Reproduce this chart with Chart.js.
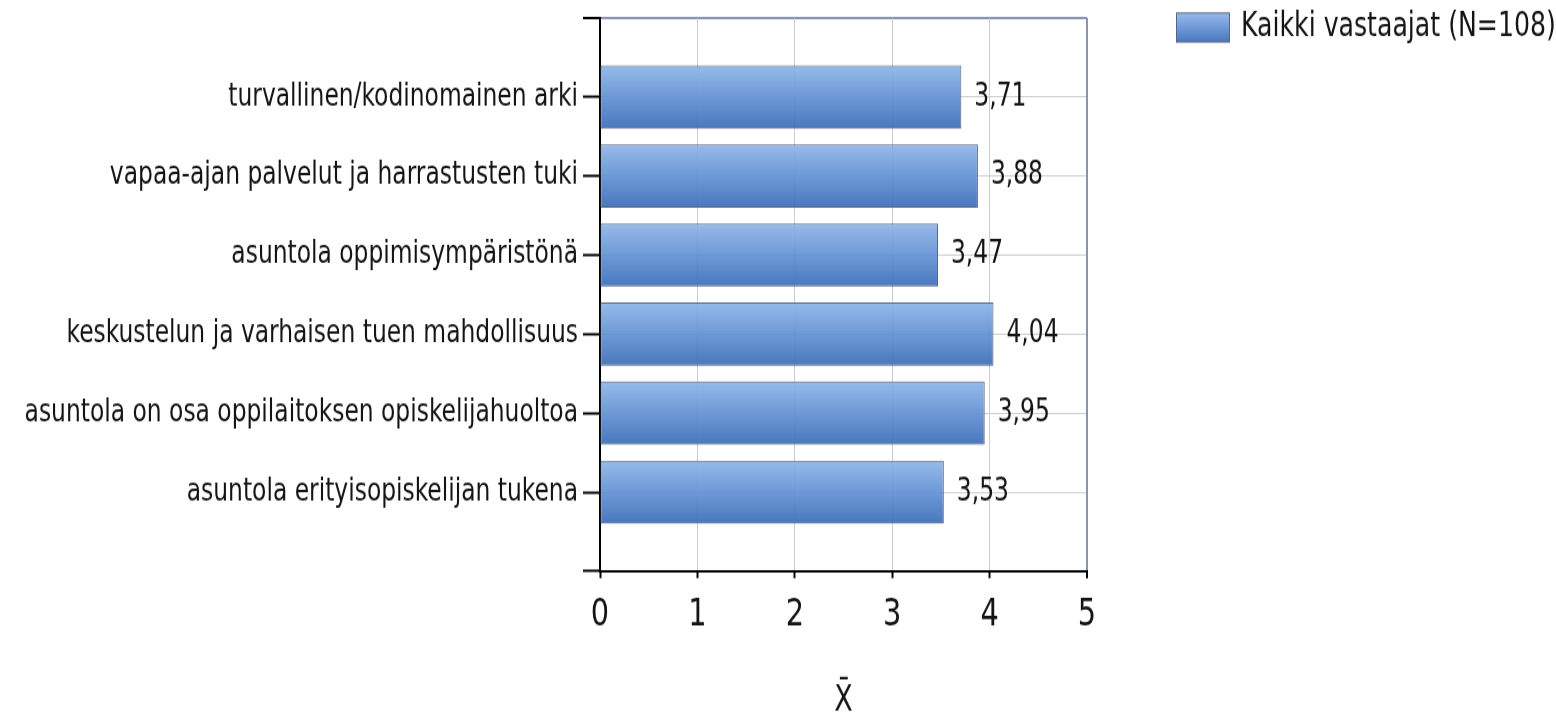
<!DOCTYPE html>
<html>
<head>
<meta charset="utf-8">
<script src="https://cdn.jsdelivr.net/npm/chart.js@4/dist/chart.umd.min.js"></script>
<style>
  html, body { margin: 0; padding: 0; background: #fff; overflow: hidden; }
  #chart { display: block; }
</style>
</head>
<body>
<!-- drawn at 1556x599 and stretched to 719 high, the reference text is tall and narrow -->
<canvas id="chart" width="1556" height="599" style="width:1556px;height:719px"></canvas>
<script>
var categories = [
  'turvallinen/kodinomainen arki',
  'vapaa-ajan palvelut ja harrastusten tuki',
  'asuntola oppimisympäristönä',
  'keskustelun ja varhaisen tuen mahdollisuus',
  'asuntola on osa oppilaitoksen opiskelijahuoltoa',
  'asuntola erityisopiskelijan tukena'
];
var values = [3.71, 3.88, 3.47, 4.04, 3.95, 3.53];
var xTicks = [0, 1, 2, 3, 4, 5];
var seriesLabel = 'Kaikki vastaajat (N=108)';
var axisTitle = 'X\u0304';

var SY = 1.2;               // vertical stretch of the canvas
var H = 599;                // internal canvas height
function py(v) { return v / SY; }

var FONT = "'DejaVu Sans Condensed', 'Liberation Sans', sans-serif";
var TEXT = '#141414';
var FRAME = '#8795ad';
var GRID = '#cdcdcd';
var FLAT = 'rgba(98,145,212,0.92)';

// blank slots above and below so the bars sit on whole steps
var yLabels = [''].concat(categories, ['']);
var barData = [null].concat(values, [null]);
var BAR_PCT = 0.8;

function barGradient(ctx, top, bottom) {
  if (!isFinite(top) || !isFinite(bottom) || bottom <= top) return FLAT;
  var g = ctx.createLinearGradient(0, top, 0, bottom);
  g.addColorStop(0, 'rgba(143,181,232,0.92)');
  g.addColorStop(0.5, 'rgba(98,145,212,0.92)');
  g.addColorStop(1, 'rgba(58,108,184,0.92)');
  return g;
}

var valueLabels = {
  id: 'valueLabels',
  afterDatasetsDraw: function (chart) {
    var ctx = chart.ctx;
    var meta = chart.getDatasetMeta(0);
    ctx.save();
    ctx.font = '26px ' + FONT;
    ctx.fillStyle = TEXT;
    ctx.textBaseline = 'middle';
    meta.data.forEach(function (bar, i) {
      var v = barData[i];
      if (v == null) return;
      ctx.fillText(v.toFixed(2).replace('.', ','), bar.x + 13, bar.y);
    });
    ctx.restore();
  }
};

var boxLegend = {
  id: 'boxLegend',
  afterDraw: function (chart) {
    var ctx = chart.ctx;
    var top = py(13), bottom = py(42);
    ctx.save();
    ctx.fillStyle = barGradient(ctx, top, bottom);
    ctx.fillRect(1176, top, 54, bottom - top);
    ctx.strokeStyle = '#56677f';
    ctx.lineWidth = 1;
    ctx.strokeRect(1176.5, top, 53, bottom - top);
    ctx.font = '28px ' + FONT;
    ctx.fillStyle = TEXT;
    ctx.textBaseline = 'middle';
    ctx.fillText(chart.data.datasets[0].label, 1241, (top + bottom) / 2);
    ctx.restore();
  }
};

var ctx = document.getElementById('chart').getContext('2d');
var chart = new Chart(ctx, {
  type: 'bar',
  data: {
    labels: yLabels,
    datasets: [{
      label: seriesLabel,
      data: barData,
      backgroundColor: function (c) {
        var ys = c.chart.scales && c.chart.scales.y;
        if (!ys || c.dataIndex == null) return FLAT;
        var y = ys.getPixelForValue(c.dataIndex);
        var h = (ys.getPixelForValue(1) - ys.getPixelForValue(0)) * BAR_PCT;
        return barGradient(c.chart.ctx, y - h / 2, y + h / 2);
      },
      borderColor: '#52647e',
      borderWidth: 1,
      borderSkipped: false,
      barPercentage: BAR_PCT,
      categoryPercentage: 1
    }]
  },
  options: {
    indexAxis: 'y',
    responsive: false,
    animation: false,
    devicePixelRatio: 1,
    layout: { padding: { top: py(18), right: 1556 - 1087, bottom: 0, left: 0 } },
    plugins: {
      legend: { display: false },
      tooltip: { enabled: false }
    },
    scales: {
      y: {
        type: 'category',
        offset: false,
        afterFit: function (scale) {
          scale.width = 600;
          scale.paddingTop = 0;
          scale.paddingBottom = 0;
        },
        ticks: { font: { family: FONT, size: 26 }, color: TEXT, padding: 5, autoSkip: false },
        grid: {
          offset: false,
          color: function (c) {
            if (c.index === 0) return FRAME;
            if (c.index === yLabels.length - 1) return '#000';
            return GRID;
          },
          lineWidth: function (c) { return c.index === 0 ? 2 : 1; },
          drawTicks: true,
          tickLength: 17,
          tickColor: '#000',
          tickWidth: 2
        },
        border: { color: '#000', width: 2 }
      },
      x: {
        type: 'linear',
        min: xTicks[0],
        max: xTicks[xTicks.length - 1],
        afterFit: function (scale) { scale.height = H - py(571); },
        ticks: { stepSize: 1, font: { family: FONT, size: 32 }, color: TEXT, padding: 12 },
        grid: {
          color: function (c) {
            if (c.tick && c.tick.value === xTicks[xTicks.length - 1]) return FRAME;
            if (c.tick && c.tick.value === xTicks[0]) return '#000';
            return GRID;
          },
          lineWidth: function (c) { return c.tick && c.tick.value === xTicks[xTicks.length - 1] ? 2 : 1; },
          tickLength: py(7),
          tickColor: '#000',
          tickWidth: 2
        },
        border: { color: '#000', width: 2 },
        title: {
          display: true,
          text: axisTitle,
          color: TEXT,
          font: { family: FONT, size: 30, lineHeight: 1 },
          padding: { top: 0, bottom: 0 }
        }
      }
    }
  },
  plugins: [valueLabels, boxLegend]
});
</script>
</body>
</html>
